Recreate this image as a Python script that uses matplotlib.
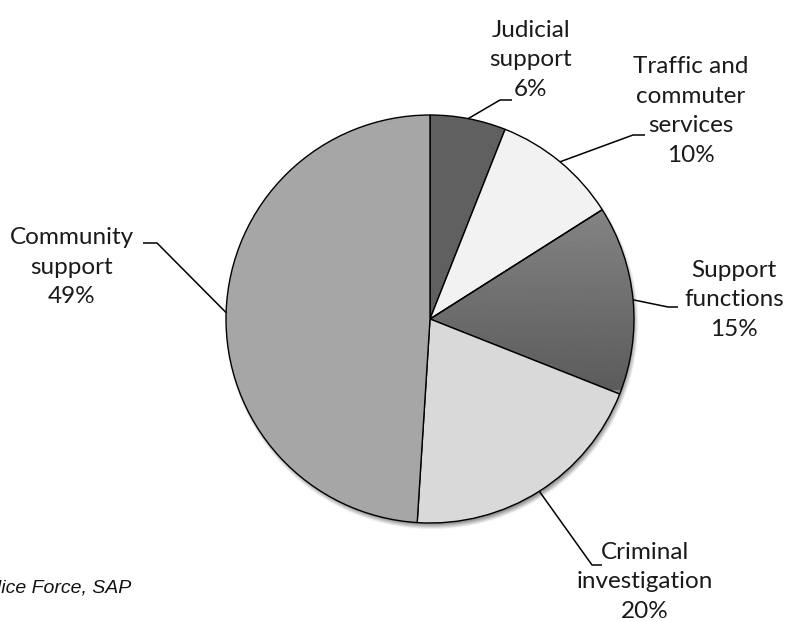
import numpy as np
import matplotlib
matplotlib.use("Agg")
import matplotlib.pyplot as plt

# Share of police officers by function
categories = ["Judicial\nsupport", "Traffic and\ncommuter\nservices", "Support\nfunctions",
              "Criminal\ninvestigation", "Community\nsupport"]
shares = [6, 10, 15, 20, 49]
colors = ["#606060", "#f2f2f2", "none", "#d9d9d9", "#a6a6a6"]
source_note = "Police Force, SAP"

W, H = 788, 622
CX, CY, R = 430, H - 319, 204

# label block centres and leader-line elbows, in pixel coords (y from top)
label_pos = [(531, 60), (691, 111), (734, 300), (645, 582), (72, 267)]
elbows = [((500, 100), (512, 100)), ((633, 135), (645, 135)), ((668, 307), (678, 307)),
          ((592, 565), (602, 565)), ((157, 243), (143, 243))]

plt.rcParams["font.family"] = ["Lato", "DejaVu Sans"]

fig = plt.figure(figsize=(W / 100, H / 100), dpi=100)
ax = fig.add_axes([0, 0, 1, 1])

# soft drop shadow under the pie
gx, gy = np.meshgrid(np.linspace(CX - R - 20, CX + R + 20, 400),
                     np.linspace(CY - R - 20, CY + R + 20, 400))
d = np.hypot(gx - (CX + 2), gy - (CY - 4))
alpha = np.clip((R + 3 - d) / 6.0, 0, 1) * 0.45
shadow = np.zeros(gx.shape + (4,))
shadow[..., 3] = alpha
ax.imshow(shadow, extent=(CX - R - 20, CX + R + 20, CY - R - 20, CY + R + 20),
          origin="lower", zorder=0, interpolation="bilinear")

wedges, _ = ax.pie(shares, colors=colors, startangle=90, counterclock=False,
                   center=(CX, CY), radius=R, frame=True,
                   wedgeprops=dict(edgecolor="black", linewidth=1.0))
for w in wedges:
    w.set_zorder(3)

# vertical grey gradient inside the "Support functions" slice
grad = np.linspace(0.36, 0.52, 256).reshape(-1, 1)
img = ax.imshow(np.repeat(grad, 2, axis=1), cmap="gray", vmin=0, vmax=1,
                extent=(CX, CX + R, H - 390, H - 205), origin="lower",
                aspect="auto", zorder=2)
img.set_clip_path(wedges[2])

# labels with leader lines from slice midpoints
start = 90.0
for cat, val, (lx, ly), (p1, p2), w in zip(categories, shares, label_pos, elbows, wedges):
    mid = np.deg2rad(start - val * 3.6 / 2)
    start -= val * 3.6
    ex, ey = CX + R * np.cos(mid), CY + R * np.sin(mid)
    ax.plot([ex, p1[0], p2[0]], [ey, H - p1[1], H - p2[1]], color="black",
            linewidth=1.1, zorder=4, solid_capstyle="butt")
    ax.text(lx, H - ly, f"{cat}\n{val}%", ha="center", va="center", fontsize=17.5,
            linespacing=1.52, color="#1a1a1a", zorder=5)

ax.text(131, H - 588, source_note, ha="right", va="center", fontsize=14,
        style="italic", family=["Liberation Sans", "DejaVu Sans"], color="#111111")

ax.set_xlim(0, W)
ax.set_ylim(0, H)
ax.set_aspect("auto")
ax.axis("off")

fig.savefig("out.png", dpi=100)
